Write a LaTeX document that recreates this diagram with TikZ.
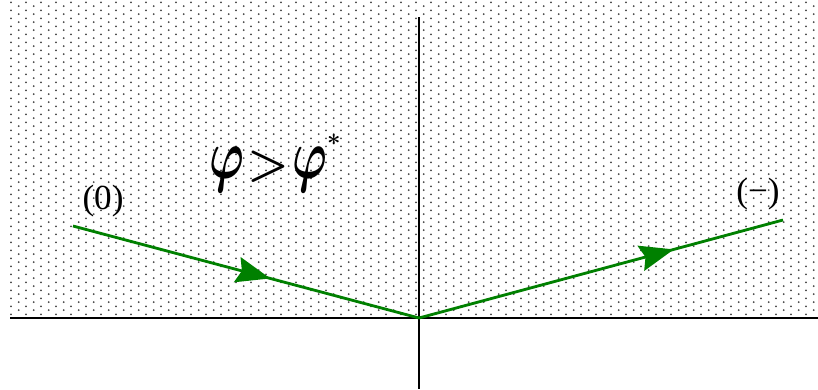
\RequirePackage{fix-cm}
\documentclass[tikz,border=0pt]{standalone}
\usepackage{amsmath,amssymb}
\usepackage{graphicx}
\usepackage{fontspec}
\setmainfont{Liberation Serif}
\usepackage{tikz}
\usetikzlibrary{arrows.meta,patterns.meta,decorations.markings,calc}
\definecolor{pcol}{RGB}{0,128,0}
\newcommand{\tallphi}{\scalebox{1}[1.5]{$\varphi$}}
\tikzdeclarepattern{
  name=grain,
  bottom left={(0pt,0pt)}, top right={(13.06pt,6.57pt)},
  tile size={(13.06pt,6.57pt)},
  code={
    \fill (3.27pt,1.64pt) circle (0.9pt);
    \fill (9.80pt,4.93pt) circle (0.9pt);
  }
}

\begin{document}
\begin{tikzpicture}[
  x=0.03cm, y=-0.03cm,
  axis/.style={line width=2.4pt},
  traj/.style={pcol,line width=2.4pt},
  lab/.style={font=\fontsize{30}{34}\selectfont},
  condlab/.style={font=\fontsize{40}{44}\selectfont\boldmath,inner sep=0pt},
  >={Stealth[length=29pt,width=22pt,inset=4pt]}]
\useasboundingbox (0,0) rectangle (818,389);
% region and axes
\fill[pattern=grain,pattern color=black!75] (10,0) rectangle (818,318);
\coordinate (O) at (419,318);
\coordinate (W) at (10,318);
\coordinate (E) at (818,318);
\coordinate (N) at (419,17);
\coordinate (S) at (419,389);
\draw[axis] (W) -- (E);
\draw[axis] (N) -- (S);
% trajectories
\coordinate (A) at (73,226);
\coordinate (B) at (783,220);
\draw[traj,postaction={decorate},decoration={markings,mark=at position 0.57 with {\arrow{>}}}] (A) -- (O);
\draw[traj,postaction={decorate},decoration={markings,mark=at position 0.70 with {\arrow{>}}}] (O) -- (B);
% labels
\node[lab] (zero) at (103,201) {(0)};
\node[lab] (minus) at (758,194) {(−)};
\node[condlab,anchor=base west] (cond) at (209,178) {$\tallphi\mkern1mu{>}\mkern1mu\tallphi^{\raisebox{0.3em}{$\scriptscriptstyle *$}}$};
\end{tikzpicture}
\end{document}
